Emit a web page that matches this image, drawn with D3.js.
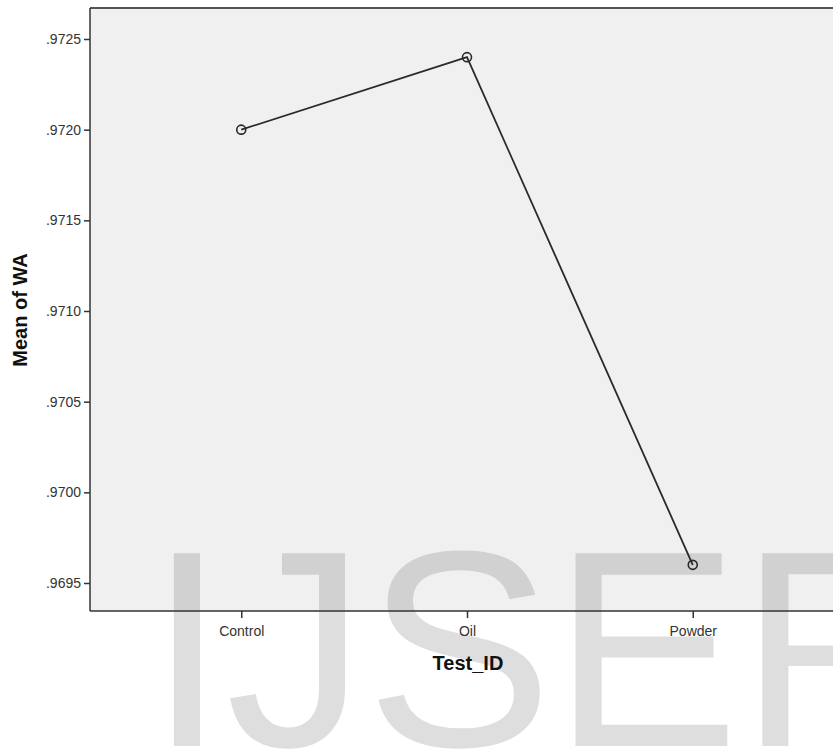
<!DOCTYPE html>
<html>
<head>
<meta charset="utf-8">
<script src="https://cdn.jsdelivr.net/npm/d3@7"></script>
<style>
  body { margin: 0; background: #fff; }
  svg { display: block; font-family: Arial, "Liberation Sans", sans-serif; }
</style>
</head>
<body>
<svg id="chart" width="833" height="749"></svg>
<script>
// data
const categories = ["Control", "Oil", "Powder"];
const means = [0.9720, 0.9724, 0.9696];
const yTicks = [0.9695, 0.9700, 0.9705, 0.9710, 0.9715, 0.9720, 0.9725];

const svg = d3.select("#chart");
const plotLeft = 90, plotTop = 8, plotBottom = 611, plotRight = 844;

const x = d3.scalePoint()
  .domain(categories)
  .range([plotLeft, plotRight])
  .padding(0.67);

const y = d3.scaleLinear()
  .domain([0.9695, 0.9725])
  .range([583, 39]);

// plot background
svg.append("rect")
  .attr("x", plotLeft).attr("y", plotTop)
  .attr("width", plotRight - plotLeft).attr("height", plotBottom - plotTop)
  .attr("fill", "#f0f0f0");

// watermark
svg.append("text")
  .attr("x", 148).attr("y", 746)
  .attr("font-family", "Arial, 'Liberation Sans', sans-serif")
  .attr("font-size", 280)
  .attr("fill", "#000")
  .attr("fill-opacity", 0.13)
  .text("IJSER");

// frame
svg.append("line")
  .attr("x1", plotLeft).attr("x2", plotRight).attr("y1", plotTop).attr("y2", plotTop)
  .attr("stroke", "#555").attr("stroke-width", 2);

// y axis
const yAxis = svg.append("g")
  .attr("transform", `translate(${plotLeft},0)`)
  .call(d3.axisLeft(y).tickValues(yTicks).tickSize(6).tickPadding(3)
    .tickFormat(d => d3.format(".4f")(d).replace(/^0/, "")));
yAxis.select(".domain").attr("stroke", "#333").attr("stroke-width", 1.5).attr("d", `M0,${plotTop}V${plotBottom}`);
yAxis.selectAll(".tick line").attr("stroke", "#333").attr("stroke-width", 1.5);
yAxis.selectAll(".tick text").attr("font-size", 14).attr("fill", "#333")
  .attr("font-family", "Arial, 'Liberation Sans', sans-serif");

// x axis
const xAxis = svg.append("g")
  .attr("transform", `translate(0,${plotBottom})`)
  .call(d3.axisBottom(x).tickSize(7).tickPadding(8));
xAxis.select(".domain").attr("stroke", "#333").attr("stroke-width", 1.5).attr("d", `M${plotLeft},0H${plotRight}`);
xAxis.selectAll(".tick line").attr("stroke", "#333").attr("stroke-width", 1.5);
xAxis.selectAll(".tick text").attr("font-size", 14).attr("fill", "#333")
  .attr("font-family", "Arial, 'Liberation Sans', sans-serif");

// axis titles
svg.append("text")
  .attr("x", 468).attr("y", 670)
  .attr("text-anchor", "middle")
  .attr("font-size", 20).attr("font-weight", "bold").attr("fill", "#111")
  .text("Test_ID");

svg.append("text")
  .attr("transform", "translate(27,310) rotate(-90)")
  .attr("text-anchor", "middle")
  .attr("font-size", 20).attr("font-weight", "bold").attr("fill", "#111")
  .text("Mean of WA");

// mean line
const pts = categories.map((c, i) => ({ c, v: means[i] }));
svg.append("path")
  .datum(pts)
  .attr("fill", "none")
  .attr("stroke", "#2a2a2a")
  .attr("stroke-width", 1.8)
  .attr("d", d3.line().x(d => x(d.c)).y(d => y(d.v)));

svg.selectAll(".pt")
  .data(pts)
  .enter().append("circle")
  .attr("class", "pt")
  .attr("cx", d => x(d.c)).attr("cy", d => y(d.v))
  .attr("r", 4.5)
  .attr("fill", "none")
  .attr("stroke", "#2a2a2a")
  .attr("stroke-width", 1.6);
</script>
</body>
</html>
